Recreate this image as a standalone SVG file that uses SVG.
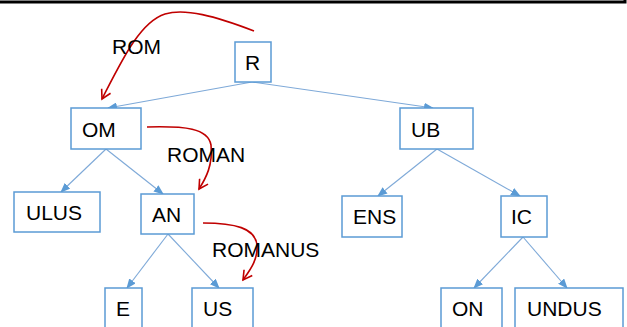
<svg xmlns="http://www.w3.org/2000/svg" width="627" height="327" viewBox="0 0 627 327">
<defs>
<style>
.box{fill:#fff;stroke:#5B9BD5;stroke-width:1.5}
.t{font-family:"Liberation Sans",Arial,sans-serif;font-size:21px;fill:#000}
.c{fill:none;stroke:#7EA9D8;stroke-width:1.1}
.r{fill:none;stroke:#C00000;stroke-width:1.6}
</style>
<marker id="ba" markerWidth="10" markerHeight="8" refX="9" refY="4" orient="auto" markerUnits="userSpaceOnUse">
<path d="M0,0 L10,4 L0,8 Z" fill="#5B9BD5"/>
</marker>
<marker id="ra" markerWidth="12" markerHeight="12" refX="10" refY="6" orient="auto" markerUnits="userSpaceOnUse">
<path d="M1,1 L10,6 L1,11" fill="none" stroke="#C00000" stroke-width="1.6"/>
</marker>
</defs>
<rect width="627" height="327" fill="#fff"/>
<path d="M0,2 H625 V0" fill="none" stroke="#000" stroke-width="3"/>
<g id="connectors">
<line class="c" x1="252" y1="82" x2="108" y2="108" marker-end="url(#ba)"/>
<line class="c" x1="252" y1="82" x2="433" y2="108" marker-end="url(#ba)"/>
<line class="c" x1="106" y1="149" x2="61" y2="192" marker-end="url(#ba)"/>
<line class="c" x1="106" y1="149" x2="163" y2="194" marker-end="url(#ba)"/>
<line class="c" x1="168" y1="234" x2="127" y2="288" marker-end="url(#ba)"/>
<line class="c" x1="168" y1="234" x2="219" y2="288" marker-end="url(#ba)"/>
<line class="c" x1="437" y1="149" x2="378" y2="196" marker-end="url(#ba)"/>
<line class="c" x1="437" y1="149" x2="520" y2="196" marker-end="url(#ba)"/>
<line class="c" x1="523" y1="237" x2="474" y2="288" marker-end="url(#ba)"/>
<line class="c" x1="523" y1="237" x2="567" y2="288" marker-end="url(#ba)"/>
<path class="r" d="M254,31 C215,16 185,8 165,14 C140,22 122,60 102,99" marker-end="url(#ra)"/>
<path class="r" d="M147,127 C185,126 208,128 211,145 C213,165 206,178 199,189" marker-end="url(#ra)"/>
<path class="r" d="M203,223 C235,223 255,228 257,245 C258,260 250,270 243,280" marker-end="url(#ra)"/>
</g>
<g id="labels">
<text class="t" x="112" y="54">ROM</text>
<text class="t" x="167" y="162">ROMAN</text>
<text class="t" x="212" y="257">ROMANUS</text>
</g>
<g id="R"><rect class="box" x="235" y="42" width="36" height="40"/><text class="t" x="245" y="70">R</text></g>
<g id="OM"><rect class="box" x="71" y="108" width="70" height="41"/><text class="t" x="82" y="137">OM</text></g>
<g id="UB"><rect class="box" x="400" y="108" width="73" height="41"/><text class="t" x="411" y="137">UB</text></g>
<g id="ULUS"><rect class="box" x="14" y="192" width="86" height="40"/><text class="t" x="26" y="220">ULUS</text></g>
<g id="AN"><rect class="box" x="141" y="194" width="53" height="40"/><text class="t" x="152" y="222">AN</text></g>
<g id="ENS"><rect class="box" x="342" y="196" width="60" height="41"/><text class="t" x="353" y="224">ENS</text></g>
<g id="IC"><rect class="box" x="501" y="196" width="46" height="41"/><text class="t" x="511" y="224">IC</text></g>
<g id="E"><rect class="box" x="105" y="288" width="37" height="45"/><text class="t" x="116" y="316">E</text></g>
<g id="US"><rect class="box" x="192" y="288" width="61" height="45"/><text class="t" x="203" y="316">US</text></g>
<g id="ON"><rect class="box" x="441" y="288" width="61" height="45"/><text class="t" x="452" y="316">ON</text></g>
<g id="UNDUS"><rect class="box" x="515" y="288" width="108" height="45"/><text class="t" x="527" y="316">UNDUS</text></g>
</svg>
